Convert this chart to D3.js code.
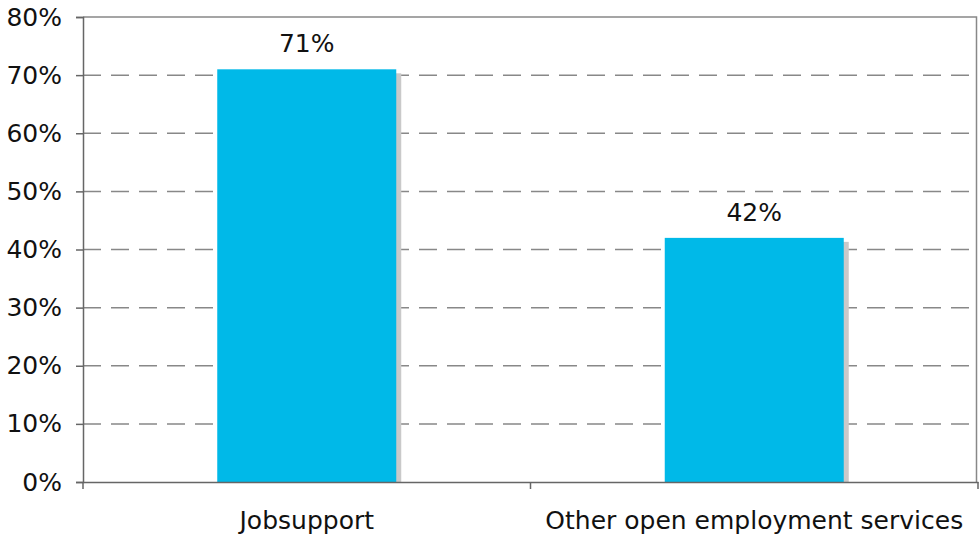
<!DOCTYPE html>
<html lang="en">
<head>
    <meta charset="UTF-8">
    <title>Jobsupport vs other open employment services</title>
    <script src="https://d3js.org/d3.v7.min.js"></script>
    <style>
        body {
            margin: 0;
            background: #fff;
        }
        .tick-label, .value-label {
            font-family: "DejaVu Sans", Verdana, sans-serif;
            font-size: 25px;
            fill: #111;
        }
        .value-label {
            text-anchor: middle;
        }
    </style>
</head>
<body>
    <svg id="chart"></svg>
    <script>
        // data
        const categories = ["Jobsupport", "Other open employment services"];
        const values = [71, 42];
        const yTicks = [0, 10, 20, 30, 40, 50, 60, 70, 80];

        const width = 979;
        const height = 536;
        const margin = {top: 17, right: 1, bottom: 54, left: 83};

        const svg = d3.select("#chart")
            .attr("width", width)
            .attr("height", height);

        const x = d3.scaleBand()
            .domain(categories)
            .range([margin.left, width - margin.right])
            .paddingInner(0)
            .paddingOuter(0);

        const y = d3.scaleLinear()
            .domain([0, 80])
            .range([height - margin.bottom, margin.top]);

        const barWidth = x.bandwidth() * 0.4;

        // dashed gridlines (skip 0 and 80)
        svg.append("g")
            .selectAll("line")
            .data(yTicks.filter(d => d > 0 && d < 80))
            .enter().append("line")
            .attr("x1", margin.left)
            .attr("x2", width - margin.right - 2)
            .attr("y1", d => y(d))
            .attr("y2", d => y(d))
            .attr("stroke", "#888")
            .attr("stroke-width", 1.5)
            .attr("stroke-dasharray", "18,10");

        // frame top + right
        svg.append("path")
            .attr("d", `M${margin.left},${y(80)}H${width - margin.right - 1.5}V${y(0)}`)
            .attr("fill", "none")
            .attr("stroke", "#888")
            .attr("stroke-width", 1.5);

        // bar shadows
        svg.append("g")
            .selectAll("rect")
            .data(values)
            .enter().append("rect")
            .attr("x", (d, i) => x(categories[i]) + (x.bandwidth() - barWidth) / 2 + 5)
            .attr("y", d => y(d) + 4)
            .attr("width", barWidth)
            .attr("height", d => y(0) - y(d) - 4)
            .attr("fill", "#c9c9c9");

        // bars
        svg.append("g")
            .selectAll("rect")
            .data(values)
            .enter().append("rect")
            .attr("x", (d, i) => x(categories[i]) + (x.bandwidth() - barWidth) / 2)
            .attr("y", d => y(d))
            .attr("width", barWidth)
            .attr("height", d => y(0) - y(d))
            .attr("fill", "#00b9e8");

        // value labels
        svg.append("g")
            .selectAll("text")
            .data(values)
            .enter().append("text")
            .attr("class", "value-label")
            .attr("x", (d, i) => x(categories[i]) + x.bandwidth() / 2)
            .attr("y", d => y(d) - 17)
            .text(d => d + "%");

        // y axis
        const yAxis = svg.append("g")
            .attr("transform", `translate(${margin.left},0)`)
            .call(d3.axisLeft(y).tickValues(yTicks).tickFormat(d => d + "%").tickSize(7).tickPadding(14));
        yAxis.attr("font-family", null).attr("font-size", null);
        yAxis.select(".domain").attr("stroke", "#666").attr("stroke-width", 1.5);
        yAxis.selectAll(".tick line").attr("stroke", "#666").attr("stroke-width", 1.5);
        yAxis.selectAll(".tick text")
            .attr("class", "tick-label")
            .attr("fill", "#111");

        // x axis
        const xAxis = svg.append("g")
            .attr("transform", `translate(0,${y(0)})`)
            .call(d3.axisBottom(x).tickSize(0).tickPadding(29));
        xAxis.attr("font-family", null).attr("font-size", null);
        xAxis.select(".domain").attr("stroke", "#666").attr("stroke-width", 1.5);
        xAxis.selectAll(".tick text")
            .attr("class", "tick-label")
            .attr("fill", "#111");

        // category boundary ticks
        svg.append("g")
            .selectAll("line")
            .data([0, 1, 2])
            .enter().append("line")
            .attr("x1", d => margin.left + d * x.step())
            .attr("x2", d => margin.left + d * x.step())
            .attr("y1", y(0))
            .attr("y2", y(0) + 7)
            .attr("stroke", "#666")
            .attr("stroke-width", 1.5);
    </script>
</body>
</html>
